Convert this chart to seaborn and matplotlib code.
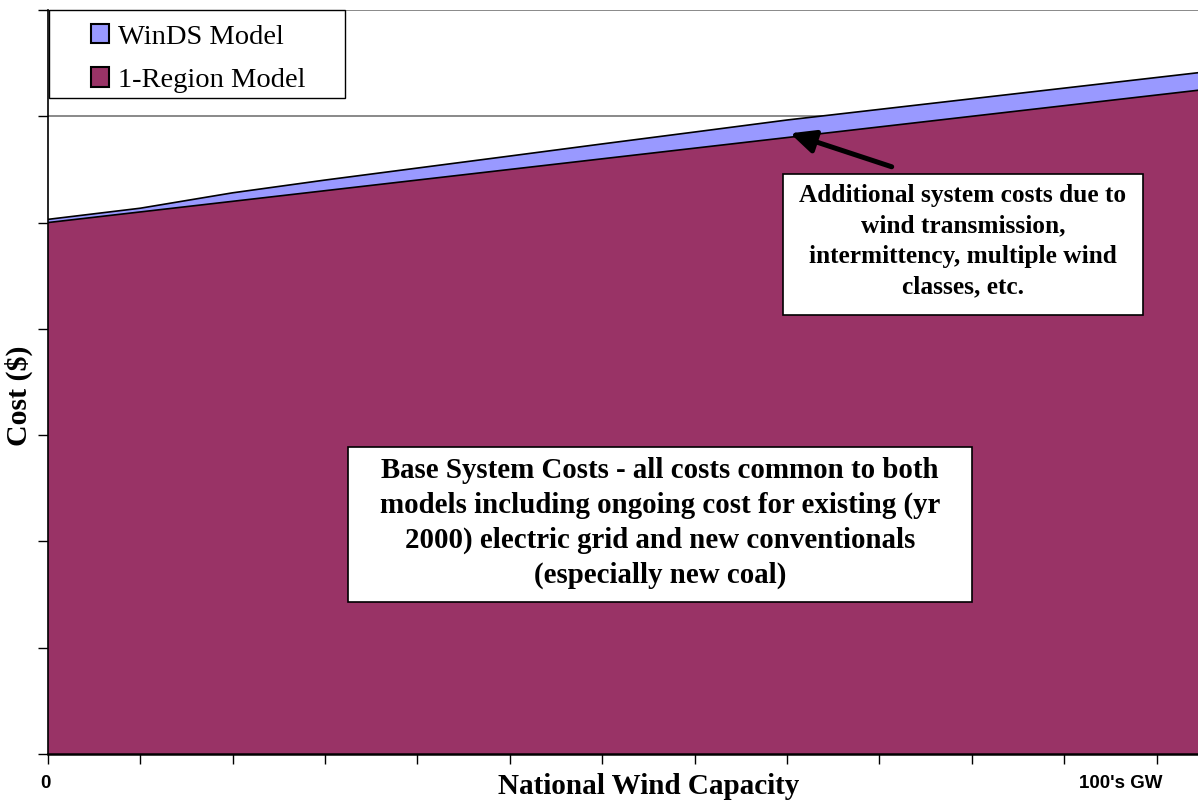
import matplotlib
matplotlib.use("Agg")
import matplotlib.pyplot as plt
from matplotlib.patches import Rectangle, Patch
import numpy as np
import pandas as pd
import seaborn as sns

# Wind build-out steps along the category axis (0 ... 100's GW)
capacity_step = [0, 1, 2, 3, 4, 5, 6, 7, 8, 9, 10, 11, 12, 13]

# Total system cost (arbitrary cost units) for each model
one_region_cost = [5.00, 5.10, 5.20, 5.30, 5.40, 5.50, 5.60, 5.70, 5.80, 5.90,
                   6.00, 6.10, 6.20, 6.30]
winds_cost = [5.03, 5.135, 5.28, 5.40, 5.513, 5.626, 5.74, 5.852, 5.965, 6.065,
              6.165, 6.265, 6.365, 6.465]

series_names = ["WinDS Model", "1-Region Model"]
series_colors = ["#9999FF", "#993366"]
cost_ticks = [0, 1, 2, 3, 4, 5, 6, 7]

sns.set_theme(style="white")
plt.rcParams["font.family"] = ["Liberation Serif", "DejaVu Serif"]
plt.rcParams["text.color"] = "black"
plt.rcParams["axes.labelcolor"] = "black"

W, H = 1198, 801
fig = plt.figure(figsize=(W / 100, H / 100), dpi=100)


def fx(px):
    return px / W


def fy(py):
    return 1 - py / H


left_px, right_px, top_px, bottom_px = 47.8, 1198, 10, 754
ax = fig.add_axes([fx(left_px), fy(bottom_px),
                   (right_px - left_px) / W, (bottom_px - top_px) / H])

# Filled areas: WinDS drawn first, the 1-Region area overlaps it
ax.fill_between(capacity_step, 0, winds_cost, color=series_colors[0],
                linewidth=0, zorder=2)
ax.fill_between(capacity_step, 0, one_region_cost, color=series_colors[1],
                linewidth=0, zorder=3)

outline = pd.DataFrame({
    "capacity": capacity_step * 2,
    "cost": winds_cost + one_region_cost,
    "model": [series_names[0]] * len(capacity_step)
             + [series_names[1]] * len(capacity_step),
})
sns.lineplot(data=outline, x="capacity", y="cost", hue="model",
             palette=["black", "black"], linewidth=1.2, legend=False,
             ax=ax, zorder=4)

ax.set_xticks(capacity_step)
ax.set_yticks(cost_ticks)
ax.set_xlim(0, (right_px - left_px) / 92.4)
ax.set_ylim(cost_ticks[0], cost_ticks[-1])
ax.set_xlabel("")
ax.set_ylabel("")
ax.tick_params(axis="both", which="both", direction="out", length=7,
               width=1, color="black", bottom=True, left=True,
               labelbottom=False, labelleft=False)

ax.set_axisbelow(True)
ax.yaxis.grid(True, color="#808080", linewidth=1.3)
ax.xaxis.grid(False)
for side in ("top", "right"):
    ax.spines[side].set_visible(False)
ax.spines["left"].set_color("black")
ax.spines["left"].set_linewidth(1.2)
ax.spines["bottom"].set_color("black")
ax.spines["bottom"].set_linewidth(1.8)
ax.spines["left"].set_zorder(5)
ax.spines["bottom"].set_zorder(5)

# Axis titles and end labels
fig.text(fx(649), fy(787), "National Wind Capacity", ha="center", va="center",
         fontsize=21, fontweight="bold")
fig.text(fx(19), fy(396), "Cost ($)", ha="center", va="center", rotation=90,
         fontsize=21.5, fontweight="bold")
fig.text(fx(45), fy(783), "0", ha="center", va="center", fontsize=13.5,
         fontweight="bold", family=["Liberation Sans", "DejaVu Sans"])
fig.text(fx(1121), fy(783), "100's GW", ha="center", va="center", fontsize=13.5,
         fontweight="bold", family=["Liberation Sans", "DejaVu Sans"])

# Legend with a plain rectangular frame
ax.add_patch(Rectangle((fx(48.7), fy(98)), fx(345) - fx(48.7), fy(10) - fy(98),
                       transform=fig.transFigure, facecolor="white",
                       edgecolor="black", linewidth=1.0, clip_on=False,
                       zorder=6))
handles = [Patch(facecolor=c, edgecolor="black", linewidth=1.5)
           for c in series_colors]
leg = ax.legend(handles=handles, labels=series_names, loc="center",
                bbox_to_anchor=(fx(198), fy(58.5)),
                bbox_transform=fig.transFigure, frameon=False, fontsize=20.5,
                handlelength=0.65, handleheight=0.67, handletextpad=0.32,
                labelspacing=0.63, borderpad=0)
for t in leg.get_texts():
    t.set_color("black")
leg.set_zorder(7)

# Callout for the extra WinDS cost band
ax.annotate("", xy=(8.033, 5.84), xytext=(9.133, 5.525),
            arrowprops=dict(arrowstyle="-|>,head_length=0.75,head_width=0.35",
                            mutation_scale=20, lw=3.6, color="black",
                            shrinkA=0, shrinkB=0),
            zorder=6)
ax.add_patch(Rectangle((fx(783), fy(315)), fx(1143) - fx(783), fy(174) - fy(315),
                       transform=fig.transFigure, facecolor="white",
                       edgecolor="black", linewidth=1.2, clip_on=False,
                       zorder=6))
fig.text(fx(963), fy(241),
         "Additional system costs due to\nwind transmission,\n"
         "intermittency, multiple wind\nclasses, etc.",
         ha="center", va="center", fontsize=18.3, fontweight="bold",
         linespacing=1.42)

# Description of the shared base cost area
ax.add_patch(Rectangle((fx(348), fy(602)), fx(972) - fx(348), fy(447) - fy(602),
                       transform=fig.transFigure, facecolor="white",
                       edgecolor="black", linewidth=1.2, clip_on=False,
                       zorder=6))
fig.text(fx(660), fy(523),
         "Base System Costs - all costs common to both\n"
         "models including ongoing cost for existing (yr\n"
         "2000) electric grid and new conventionals\n"
         "(especially new coal)",
         ha="center", va="center", fontsize=20.8, fontweight="bold",
         linespacing=1.38)

fig.savefig("out.png", dpi=100)
